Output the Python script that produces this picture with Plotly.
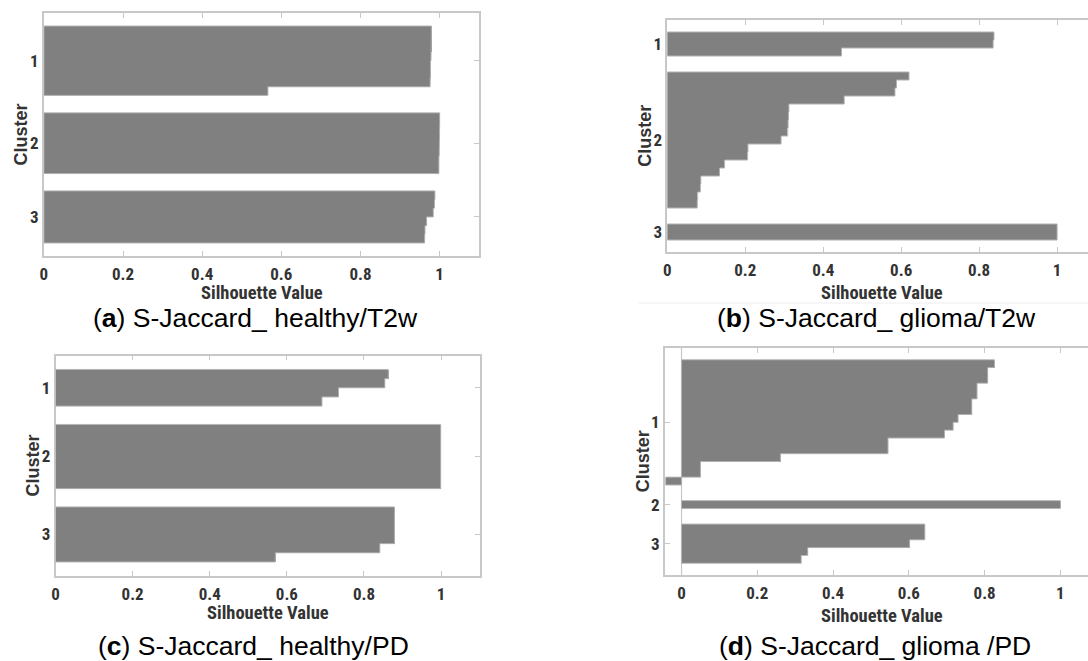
import plotly.graph_objects as go

# ---------------- data (silhouette values, sorted within cluster) ----------------
cluster_names = ["1", "2", "3"]
x_ticks = [0, 0.2, 0.4, 0.6, 0.8, 1]
x_tick_text = ["0", "0.2", "0.4", "0.6", "0.8", "1"]

a_c1 = [0.979, 0.979, 0.979, 0.978, 0.977, 0.977, 0.976, 0.566]
a_c2 = [1.0, 1.0, 0.999, 0.999, 0.999, 0.998, 0.998]
a_c3 = [0.988, 0.987, 0.984, 0.967, 0.963, 0.962]

b_c1 = [0.838, 0.836, 0.447]
b_c2 = [0.620, 0.588, 0.584, 0.454, 0.312, 0.311, 0.310, 0.309, 0.292,
        0.207, 0.206, 0.147, 0.134, 0.086, 0.085, 0.078, 0.077]
b_c3 = [1.0, 1.0]

c_c1 = [0.863, 0.854, 0.734, 0.691]
c_c2 = [0.999, 0.999, 0.999, 0.999, 0.999, 0.999, 0.999]
c_c3 = [0.879, 0.879, 0.879, 0.879, 0.841, 0.570]

d_c1 = [0.826, 0.808, 0.808, 0.780, 0.780, 0.766, 0.766, 0.730, 0.717,
        0.694, 0.545, 0.545, 0.261, 0.050, 0.050, -0.042]
d_c2 = [1.0]
d_c3 = [0.642, 0.642, 0.602, 0.333, 0.316]

captions = ["(<b>a</b>) S-Jaccard_ healthy/T2w",
            "(<b>b</b>) S-Jaccard_ glioma/T2w",
            "(<b>c</b>) S-Jaccard_ healthy/PD",
            "(<b>d</b>) S-Jaccard_ glioma /PD"]
x_title = "Silhouette Value"
y_title = "Cluster"

# ---------------- layout geometry (pixels) ----------------
W, H = 1088, 661
panels = [
    dict(clusters=[a_c1, a_c2, a_c3], left=40, right=477, top=13, bottom=256,
         xr=[0, 1.1], mirror_y=True, cap=(252, 318), xt=293, yt=17),
    dict(clusters=[b_c1, b_c2, b_c3], left=665.7, right=1088, top=20, bottom=252,
         xr=[0, 1.0792], mirror_y=False, cap=(876, 318), xt=293, yt=643),
    dict(clusters=[c_c1, c_c2, c_c3], left=51.7, right=477.4, top=355.7, bottom=575.7,
         xr=[0, 1.1], mirror_y=True, cap=(250, 646), xt=613, yt=29),
    dict(clusters=[d_c1, d_c2, d_c3], left=663.3, right=1088, top=348, bottom=575,
         xr=[-0.044, 1.0728], mirror_y=False, cap=(874, 646), xt=616, yt=641),
]

BAR = "#808080"
EDGE = "#b2b2b2"
FRAME = "#c8c8c8"
TXT = "#333333"
NARROW = "Roboto Condensed, Liberation Sans Narrow, Arial Narrow, Liberation Sans, Arial, sans-serif"
REG = "Liberation Sans, Arial, sans-serif"

fig = go.Figure()
annotations = []
shapes = []
space = 2

for i, p in enumerate(panels):
    n = i + 1
    xa = "x" if n == 1 else f"x{n}"
    ya = "y" if n == 1 else f"y{n}"
    idx = space + 1
    tick_pos = []
    for vals in p["clusters"]:
        pos = list(range(idx, idx + len(vals)))
        fig.add_trace(go.Bar(x=vals, y=pos, orientation="h", width=1.0,
                             marker=dict(color=BAR, line=dict(width=0)),
                             xaxis=xa, yaxis=ya, showlegend=False, hoverinfo="x"))
        # outline of the silhouette step shape
        ox, oy = [0], [pos[0] - 0.5]
        for v, yy in zip(vals, pos):
            ox += [v, v]
            oy += [yy - 0.5, yy + 0.5]
        ox += [0, 0]
        oy += [pos[-1] + 0.5, pos[0] - 0.5]
        fig.add_trace(go.Scatter(x=ox, y=oy, mode="lines",
                                 line=dict(color=EDGE, width=1),
                                 xaxis=xa, yaxis=ya, showlegend=False, hoverinfo="skip"))
        tick_pos.append((pos[0] + pos[-1]) / 2)
        idx += len(vals) + space
    total = idx - 1

    xd = [p["left"] / W, p["right"] / W]
    yd = [1 - p["bottom"] / H, 1 - p["top"] / H]
    xkey = "xaxis" if n == 1 else f"xaxis{n}"
    ykey = "yaxis" if n == 1 else f"yaxis{n}"
    fig.update_layout(**{
        xkey: dict(domain=xd, range=p["xr"], anchor=ya, tickvals=x_ticks,
                   ticktext=x_tick_text, ticks="inside", ticklen=5, tickwidth=1,
                   tickcolor=FRAME, showline=True, linecolor=FRAME, linewidth=1.5,
                   mirror="ticks", showgrid=False, zeroline=False,
                   layer="below traces", ticklabelstandoff=2,
                   tickfont=dict(family=NARROW, size=17, color=TXT, weight="bold")),
        ykey: dict(domain=yd, range=[total, 1], anchor=xa, tickvals=tick_pos,
                   ticktext=cluster_names, ticks="inside", ticklen=5, tickwidth=1,
                   tickcolor=FRAME, showline=True, linecolor=FRAME, linewidth=1.5,
                   mirror="ticks" if p["mirror_y"] else False, showgrid=False,
                   zeroline=False, layer="below traces",
                   tickfont=dict(family=NARROW, size=17, color=TXT, weight="bold")),
    })
    if p["xr"][0] < 0:
        shapes.append(dict(type="line", xref=xa, yref="paper", x0=0, x1=0,
                           y0=yd[0], y1=yd[1], line=dict(color=FRAME, width=1.2),
                           layer="below"))
    # x-title centred on the full (uncropped) axis span [xmin, 1.1]
    unit = (p["right"] - p["left"]) / (p["xr"][1] - p["xr"][0])
    cx = p["left"] + (1.1 - p["xr"][0]) * unit / 2
    annotations.append(dict(text=x_title, x=cx / W, y=1 - p["xt"] / H, xref="paper",
                            yref="paper", showarrow=False, xanchor="center",
                            yanchor="middle",
                            font=dict(family=NARROW, size=18.5, color=TXT, weight="bold")))
    annotations.append(dict(text=y_title, x=p["yt"] / W,
                            y=1 - (p["top"] + p["bottom"]) / 2 / H, xref="paper",
                            yref="paper", showarrow=False, textangle=-90,
                            xanchor="center", yanchor="middle",
                            font=dict(family=REG, size=18, color=TXT, weight="bold")))
    annotations.append(dict(text=captions[i], x=p["cap"][0] / W, y=1 - p["cap"][1] / H,
                            xref="paper", yref="paper", showarrow=False,
                            xanchor="center", yanchor="middle",
                            font=dict(family=REG, size=26.5, color="#000000")))

# faint separator line visible under panel (b)
shapes.append(dict(type="line", xref="paper", yref="paper", x0=637 / W, x1=1,
                   y0=1 - 303 / H, y1=1 - 303 / H, line=dict(color="#eeeeee", width=1)))

fig.update_layout(width=W, height=H, margin=dict(l=0, r=0, t=0, b=0),
                  paper_bgcolor="white", plot_bgcolor="white", bargap=0,
                  annotations=annotations, shapes=shapes, showlegend=False)

fig.write_html("out.html", config={"displayModeBar": False},
               post_script="document.body.style.margin='0';"
                           "document.body.style.overflow='hidden';")
